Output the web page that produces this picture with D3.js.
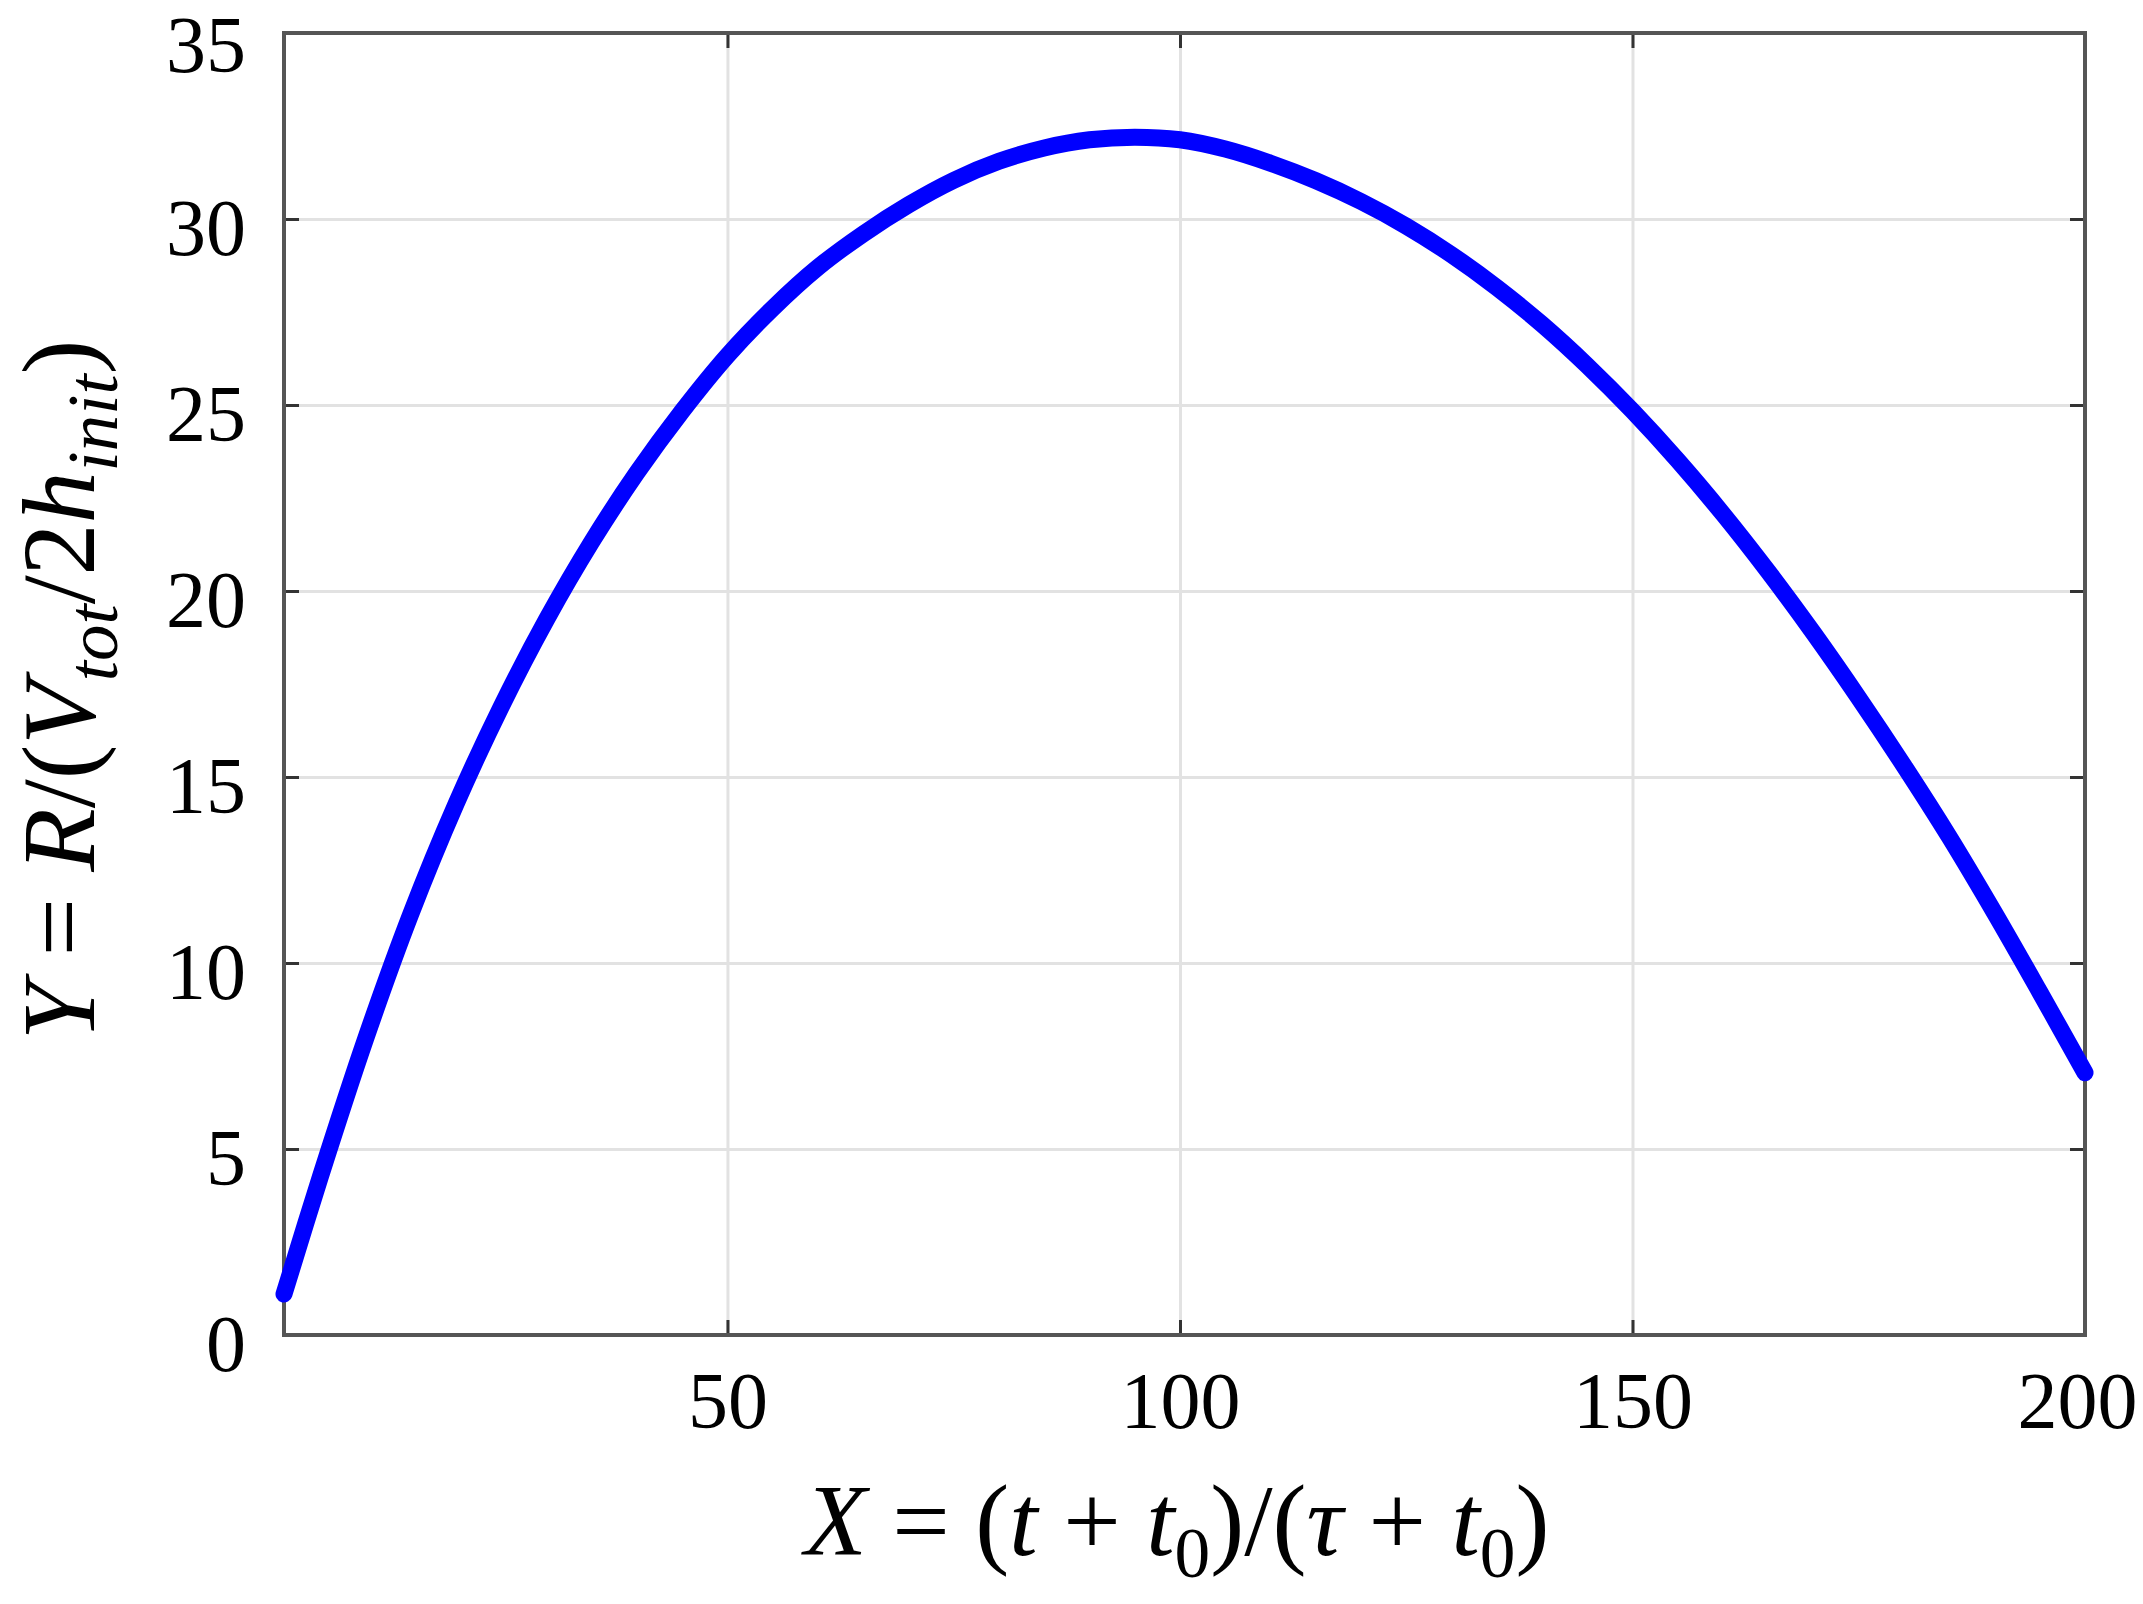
<!DOCTYPE html>
<html>
<head>
<meta charset="utf-8">
<script src="https://cdn.jsdelivr.net/npm/d3@7"></script>
<style>
  body { margin: 0; background: #fff; }
  text { font-family: "Liberation Serif", "Times New Roman", serif; fill: #000; }
</style>
</head>
<body>
<div id="plot-area"></div>
<script>
// Dimensionless radius Y against dimensionless time X

// Curve
const xVals = [1, 5, 10, 15, 20, 25, 30, 35, 40, 45, 50, 55, 60, 65, 70, 75, 80, 85, 90, 95, 100,
  105, 110, 115, 120, 125, 130, 135, 140, 145, 150, 155, 160, 165, 170, 175, 180, 185, 190, 195, 200];
const yVals = [1.1, 4.24, 7.95, 11.31, 14.27, 16.89, 19.23, 21.32, 23.18, 24.84, 26.33, 27.6, 28.7, 29.6, 30.38, 31.04, 31.55, 31.91, 32.13, 32.2, 32.13,
  31.88, 31.5, 31.03, 30.47, 29.81, 29.04, 28.16, 27.17, 26.06, 24.84, 23.51, 22.07, 20.52, 18.87, 17.125, 15.3, 13.39, 11.35, 9.22, 7.05];

// Ticks
const xTicks = [50, 100, 150, 200];
const yTicks = [0, 5, 10, 15, 20, 25, 30, 35];

const w = 2143, h = 1604;
const pL = 284, pR = 58, pT = 33, pB = 269; // padding, plot box 284..2085 x 33..1335

const svg = d3.select("#plot-area").
append("svg").
attr("width", w).
attr("height", h);

const xScale = d3.scaleLinear().
domain([1, 200]).
range([pL, w - pR]);

const yScale = d3.scaleLinear().
domain([0, 35]).
range([h - pB, pT]);

const pw = w - pL - pR;
const ph = h - pT - pB;

// Grid
svg.append("g").
attr("class", "grid").
attr("transform", `translate(0 ${h - pB})`).
call(d3.axisBottom(xScale).tickValues(xTicks).tickSize(-ph).tickFormat("")).
call(g => g.select(".domain").remove());

svg.append("g").
attr("class", "grid").
attr("transform", `translate(${pL} 0)`).
call(d3.axisLeft(yScale).tickValues(yTicks).tickSize(-pw).tickFormat("")).
call(g => g.select(".domain").remove());

svg.selectAll(".grid line").
attr("stroke", "#e2e2e2").
attr("stroke-width", 3);

// Axes with inward ticks
const tickLen = 15;
const xAxisG = svg.append("g").
attr("class", "axis").
attr("transform", `translate(0 ${h - pB})`).
call(d3.axisBottom(xScale).tickValues(xTicks).tickSizeInner(-tickLen).tickSizeOuter(0).tickPadding(36));

svg.append("g").
attr("class", "axis").
attr("transform", `translate(0 ${pT})`).
call(d3.axisTop(xScale).tickValues(xTicks).tickSizeInner(-tickLen).tickSizeOuter(0).tickFormat(""));

const yAxisG = svg.append("g").
attr("class", "axis").
attr("transform", `translate(${pL} 0)`).
call(d3.axisLeft(yScale).tickValues(yTicks).tickSizeInner(-tickLen).tickSizeOuter(0).tickPadding(38));

svg.append("g").
attr("class", "axis").
attr("transform", `translate(${w - pR} 0)`).
call(d3.axisRight(yScale).tickValues(yTicks).tickSizeInner(-tickLen).tickSizeOuter(0).tickFormat(""));

svg.selectAll(".axis .domain").remove();
svg.selectAll(".axis line").
attr("stroke", "#333").
attr("stroke-width", 3);
svg.selectAll(".axis text").
attr("font-size", 80).
attr("fill", "#000");

yAxisG.selectAll("text").
attr("dy", d => d === 35 ? 38 : 35);

// last x label sits a little left so it stays on the page
xAxisG.selectAll("text").
attr("dx", d => d === 200 ? -8 : 0);

// Box
svg.append("rect").
attr("x", pL).
attr("y", pT).
attr("width", pw).
attr("height", ph).
attr("fill", "none").
attr("stroke", "#555").
attr("stroke-width", 4);

// Curve
const line = d3.line().
x(d => xScale(d[0])).
y(d => yScale(d[1])).
curve(d3.curveCatmullRom);

svg.append("path").
datum(d3.zip(xVals, yVals)).
attr("d", line).
attr("fill", "none").
attr("stroke", "#0000ff").
attr("stroke-width", 17).
attr("stroke-linecap", "round").
attr("stroke-linejoin", "round");

// Axis labels, pieces: [text, italic, subscript]
function mathLabel(g, parts, size) {
  const t = g.append("text").
  attr("font-size", size).
  attr("text-anchor", "middle").
  style("white-space", "pre");
  let sub = false;
  parts.forEach(p => {
    const s = t.append("tspan").
    attr("font-style", p[1] ? "italic" : "normal").
    text(p[0]);
    if (p[2] && !sub) {s.attr("font-size", size * 0.7).attr("dy", size * 0.22);sub = true;} else
    if (!p[2] && sub) {s.attr("dy", -size * 0.22);sub = false;}
  });
  return t;
}

const xLab = svg.append("g").
attr("id", "x-label").
attr("transform", "translate(1177 1555)");
mathLabel(xLab, [
["X", true], [" = (", false], ["t", true], [" + ", false], ["t", true], ["0", false, true],
[")/(", false], ["\u03c4", true], [" + ", false], ["t", true], ["0", false, true], [")", false]],
102);

const yLab = svg.append("g").
attr("id", "y-label").
attr("transform", "translate(94 690) rotate(-90)");
mathLabel(yLab, [
["Y", true], [" = ", false], ["R", true], ["/(", false], ["V", true], ["tot", true, true],
["/2", false], ["h", true], ["init", true, true], [")", false]],
104);
</script>
</body>
</html>
